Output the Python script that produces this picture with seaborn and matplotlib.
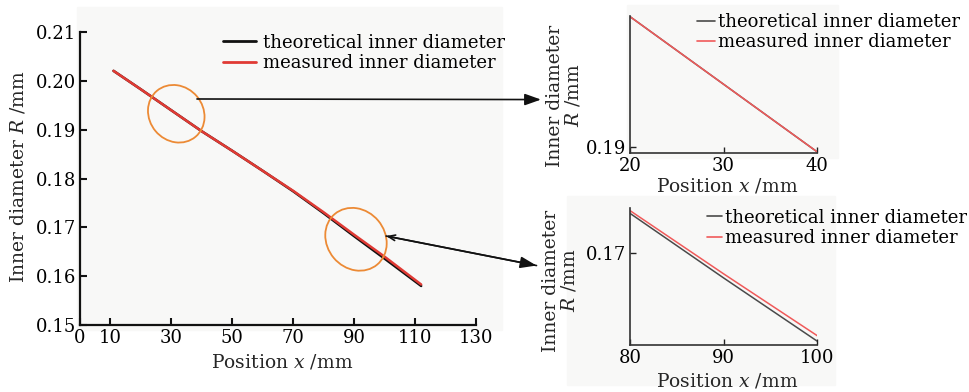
import numpy as np
import pandas as pd
import matplotlib
matplotlib.use('Agg')
import matplotlib.pyplot as plt
import seaborn as sns
from matplotlib.patches import Ellipse, Rectangle, ConnectionPatch
from matplotlib.transforms import ScaledTranslation

# Data
position = [11, 20, 30, 40, 50, 60, 70, 80, 90, 100, 112]
r_theoretical = [0.2021, 0.1983, 0.1940, 0.1897, 0.1857, 0.1816, 0.1774, 0.1729, 0.1682, 0.1636, 0.1580]
r_measured = [0.2021, 0.1983, 0.1940, 0.1897, 0.1857, 0.1816, 0.1775, 0.1731, 0.1685, 0.1640, 0.1583]

main_xticks = [0, 10, 30, 50, 70, 90, 110, 130]
main_yticks = [0.15, 0.16, 0.17, 0.18, 0.19, 0.20, 0.21]
top_xlim, top_ylim = (20, 40), (0.18962, 0.19834)
bot_xlim, bot_ylim = (80, 100), (0.16331, 0.17329)

labels = ['theoretical inner diameter', 'measured inner diameter']

sns.set_theme(style='ticks')
plt.rcParams['font.family'] = ['DejaVu Serif']
plt.rcParams['mathtext.fontset'] = 'dejavuserif'
plt.rcParams['xtick.direction'] = 'in'
plt.rcParams['ytick.direction'] = 'in'
plt.rcParams['text.color'] = '#000000'

df = pd.DataFrame({'x': position * 2,
                   'R': r_theoretical + r_measured,
                   'kind': [labels[0]] * len(position) + [labels[1]] * len(position)})

W, H = 970, 392
fig = plt.figure(figsize=(W / 100, H / 100), dpi=100)
bg = '#f8f8f7'

def px_rect(x0, y0, x1, y1):
    return [x0 / W, 1 - y1 / H, (x1 - x0) / W, (y1 - y0) / H]

# light gray backdrop panels
for (x0, y0, x1, y1) in [(77, 7, 502, 330), (627, 5, 838, 158), (567, 196, 835, 385)]:
    fig.patches.append(Rectangle((x0 / W, 1 - y1 / H), (x1 - x0) / W, (y1 - y0) / H,
                                 transform=fig.transFigure, color=bg, zorder=-10))

ax = fig.add_axes(px_rect(80, 32.3, 476, 325))
ax_top = fig.add_axes(px_rect(630, 16, 817, 153))
ax_bot = fig.add_axes(px_rect(630, 208, 817, 345))

tick_fs = 13
label_fs = 13.5
leg_fs = 13

# main panel
sns.lineplot(data=df, x='x', y='R', hue='kind', palette=['#111111', '#e03a34'],
             linewidth=1.8, ax=ax, sort=False)
ax.set_xlim(0, 130)
ax.set_ylim(0.15, 0.21)
ax.set_xticks(main_xticks)
ax.set_yticks(main_yticks)
ax.set_yticklabels([f'{v:.2f}' for v in main_yticks])
ax.set_xlabel(r'Position $x$ /mm', fontsize=label_fs)
ax.set_ylabel(r'Inner diameter $R$ /mm', fontsize=label_fs)
ax.xaxis.set_label_coords(0.511, -0.095)
ax.yaxis.set_label_coords(-0.132, 0.506)
ax.tick_params(labelsize=tick_fs, length=5, width=1.5, colors='#111111', labelcolor='black', pad=3)
for s in ['top', 'right']:
    ax.spines[s].set_visible(False)
for s in ['left', 'bottom']:
    ax.spines[s].set_linewidth(1.6)
    ax.spines[s].set_color('#111111')
ax.set_facecolor('none')
leg = ax.legend(loc='upper left', bbox_to_anchor=(0.361, 0.995), frameon=False, borderpad=0,
                borderaxespad=0, fontsize=leg_fs, handlelength=1.85, handletextpad=0.35,
                labelspacing=0.12)
for h in leg.get_lines():
    h.set_linewidth(2)

# insets
for a, xlim, ylim, xt, yt, anchor, hl, xl_y, yl_x, yl_y in [
        (ax_top, top_xlim, top_ylim, [20, 30, 40], [0.19], (0.358, 1.02), 1.0, -0.175, -0.255, 0.42),
        (ax_bot, bot_xlim, bot_ylim, [80, 90, 100], [0.17], (0.412, 0.995), 0.85, -0.19, -0.275, 0.47)]:
    sns.lineplot(data=df, x='x', y='R', hue='kind', palette=['#4a4a4a', '#f05a5a'],
                 linewidth=1.1, ax=a, sort=False)
    a.set_xlim(*xlim)
    a.set_ylim(*ylim)
    a.set_xticks(xt)
    a.set_yticks(yt)
    a.set_yticklabels([f'{v:.2f}' for v in yt])
    a.set_xlabel(r'Position $x$ /mm', fontsize=label_fs)
    a.set_ylabel('Inner diameter\n' + r'$R$ /mm', fontsize=label_fs, linespacing=0.95)
    a.xaxis.set_label_coords(0.52, xl_y)
    a.yaxis.set_label_coords(yl_x, yl_y)
    a.tick_params(labelsize=tick_fs, length=4, width=1, colors='#222222', labelcolor='black', pad=3)
    for s in ['top', 'right']:
        a.spines[s].set_visible(False)
    for s in ['left', 'bottom']:
        a.spines[s].set_linewidth(1.2)
        a.spines[s].set_color('#333333')
    a.set_facecolor('none')
    lg = a.legend(loc='upper left', bbox_to_anchor=anchor, frameon=False, borderpad=0,
                  borderaxespad=0, fontsize=leg_fs, handlelength=hl, handletextpad=0.15,
                  labelspacing=0.12)
    for h in lg.get_lines():
        h.set_linewidth(1.2)

# orange ellipses marking the zoomed regions
for (xc, yc, w, h) in [(31.6, 0.1933, 0.60, 0.54), (90.6, 0.16757, 0.66, 0.58)]:
    e = Ellipse((0, 0), w, h, angle=-50, fill=False, edgecolor='#ec8a35', linewidth=1.3,
                transform=fig.dpi_scale_trans + ScaledTranslation(xc, yc, ax.transData))
    fig.add_artist(e)

# arrows to the insets
arr1 = ConnectionPatch(xyA=(38.4, 0.19633), coordsA=ax.transData,
                       xyB=(-0.476, 0.39), coordsB=ax_top.transAxes,
                       arrowstyle='-|>,head_length=0.7,head_width=0.25',
                       mutation_scale=14, linewidth=1.2, color='#111111')
fig.add_artist(arr1)
arr2 = ConnectionPatch(xyA=(100.5, 0.16824), coordsA=ax.transData,
                       xyB=(-0.50, 0.58), coordsB=ax_bot.transAxes,
                       arrowstyle='-|>,head_length=0.7,head_width=0.25',
                       mutation_scale=14, linewidth=1.2, color='#111111')
fig.add_artist(arr2)
arr2b = ConnectionPatch(xyA=(100.5, 0.16824), coordsA=ax.transData,
                        xyB=(-0.50, 0.58), coordsB=ax_bot.transAxes,
                        arrowstyle='<-,head_length=0.5,head_width=0.2',
                        mutation_scale=10, linewidth=1.2, color='#111111')
fig.add_artist(arr2b)

fig.savefig('out.png', dpi=100, facecolor='white')
